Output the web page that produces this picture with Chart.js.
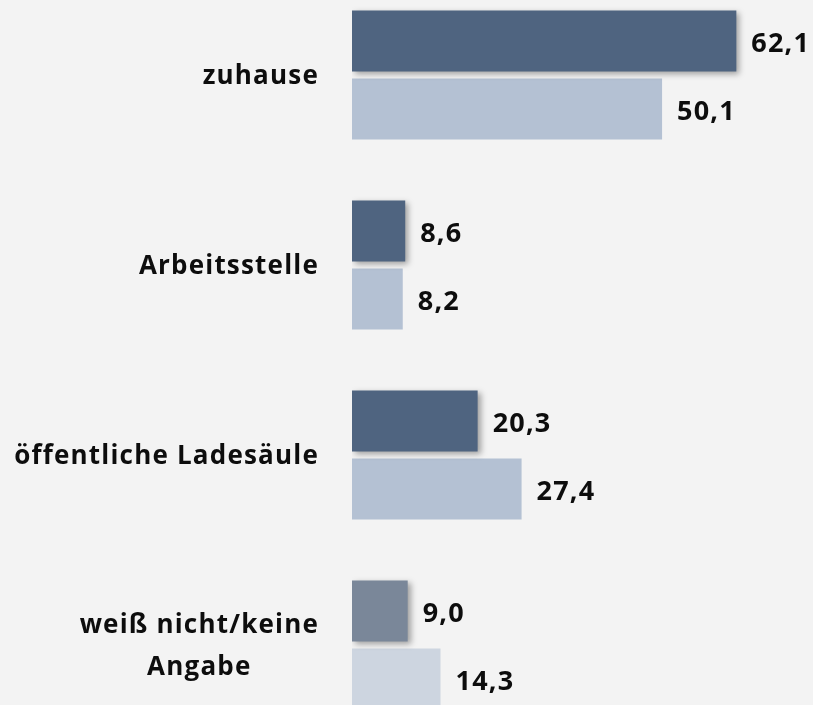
<!DOCTYPE html>
<html><head><meta charset="utf-8">
<script src="https://cdn.jsdelivr.net/npm/chart.js@4"></script>
<style>
html,body{margin:0;padding:0;background:#f3f3f3;overflow:hidden;width:813px;height:705px;}
#wrap{position:absolute;left:0;top:-20px;width:813px;height:760px;}
</style></head><body>
<div id="wrap"><canvas id="c"></canvas></div>
<script>
const categories = [["zuhause"], ["Arbeitsstelle"], ["öffentliche Ladesäule"], ["weiß nicht/keine", "Angabe"]];
const seriesA = [62.1, 8.6, 20.3, 9.0];
const seriesB = [50.1, 8.2, 27.4, 14.3];

const colorsA = ["#4f6480", "#4f6480", "#4f6480", "#7a8799"];
const colorsB = ["#b4c1d3", "#b4c1d3", "#b4c1d3", "#cdd5e0"];
const FONT = "'Open Sans', Lato, sans-serif";

const shadowPlugin = {
  id: 'shadow',
  beforeDatasetDraw(chart, args) {
    if (args.index === 0) {
      const ctx = chart.ctx;
      ctx.save();
      ctx.shadowColor = 'rgba(0,0,0,0.35)';
      ctx.shadowBlur = 6;
      ctx.shadowOffsetX = 3;
      ctx.shadowOffsetY = 3;
    }
  },
  afterDatasetDraw(chart, args) {
    if (args.index === 0) chart.ctx.restore();
  }
};

const labelPlugin = {
  id: 'labels',
  afterDraw(chart) {
    const ctx = chart.ctx;
    ctx.save();
    ctx.fillStyle = '#0d0d0d';
    // value labels
    ctx.font = "bold 27px " + FONT;
    ctx.letterSpacing = '1.2px';
    ctx.textAlign = 'left';
    ctx.textBaseline = 'alphabetic';
    chart.data.datasets.forEach((ds, di) => {
      const meta = chart.getDatasetMeta(di);
      meta.data.forEach((bar, i) => {
        ctx.fillText(ds.data[i].toFixed(1).replace('.', ','), bar.x + 15, bar.y + 11);
      });
    });
    // category labels
    ctx.font = "bold 26px " + FONT;
    ctx.letterSpacing = '1.2px';
    const ys = chart.scales.y;
    const rightX = 319;
    categories.forEach((lines, i) => {
      const cy = ys.getPixelForValue(i);
      let maxW = 0;
      lines.forEach(l => { maxW = Math.max(maxW, ctx.measureText(l).width); });
      const cx = rightX - maxW / 2;
      const lh = 42;
      lines.forEach((l, k) => {
        const w = ctx.measureText(l).width;
        ctx.textAlign = 'left';
        ctx.fillText(l, cx - w / 2, cy + 9 + (k - (lines.length - 1) / 2) * lh);
      });
    });
    ctx.restore();
  }
};

new Chart(document.getElementById('c'), {
  type: 'bar',
  data: {
    labels: categories.map(c => c.join(' ')),
    datasets: [
      { data: seriesA, backgroundColor: colorsA, borderWidth: 0, barPercentage: 0.897, categoryPercentage: 0.716 },
      { data: seriesB, backgroundColor: colorsB, borderWidth: 0, barPercentage: 0.897, categoryPercentage: 0.716 }
    ]
  },
  options: {
    indexAxis: 'y',
    responsive: true,
    maintainAspectRatio: false,
    animation: false,
    layout: { padding: { left: 352, right: 3, top: 0, bottom: 0 } },
    plugins: { legend: { display: false }, tooltip: { enabled: false } },
    scales: {
      x: { display: false, min: 0, max: 74 },
      y: { display: false }
    }
  },
  plugins: [shadowPlugin, labelPlugin]
});
</script>
</body></html>
